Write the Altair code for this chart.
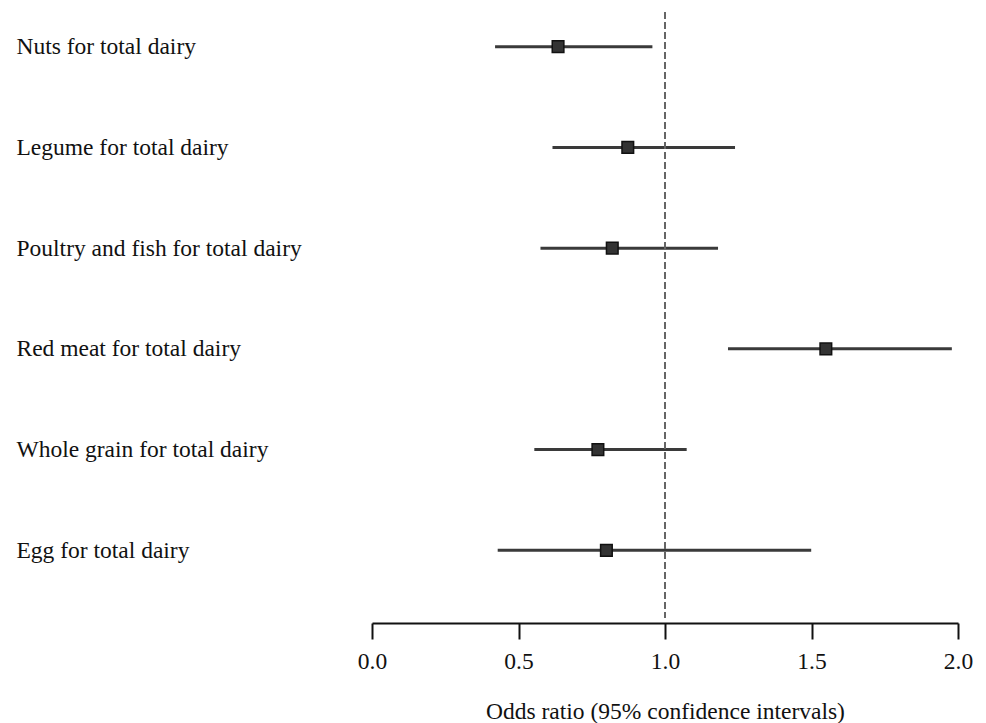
import altair as alt
import pandas as pd

labels = [
    "Nuts for total dairy",
    "Legume for total dairy",
    "Poultry and fish for total dairy",
    "Red meat for total dairy",
    "Whole grain for total dairy",
    "Egg for total dairy",
]
odds = [0.635, 0.873, 0.820, 1.549, 0.771, 0.800]
lower = [0.420, 0.616, 0.575, 1.215, 0.554, 0.429]
upper = [0.957, 1.239, 1.181, 1.979, 1.074, 1.499]
tick_values = [0.0, 0.5, 1.0, 1.5, 2.0]
ref_value = [1.0]

df = pd.DataFrame({"label": labels, "odds": odds, "lower": lower, "upper": upper})
ref_df = pd.DataFrame({"ref": ref_value})

FONT = "Liberation Serif"
FS = 23.5

x_axis = alt.Axis(
    values=tick_values,
    format=".1f",
    title="Odds ratio (95% confidence intervals)",
    offset=34,
    grid=False,
    labelFlush=False,
    domainColor="#111111",
    domainWidth=2,
    tickColor="#111111",
    tickWidth=2,
    tickSize=16,
    labelPadding=10,
    labelFont=FONT,
    labelFontSize=FS,
    labelColor="#111111",
    titleFont=FONT,
    titleFontSize=FS,
    titleFontWeight="normal",
    titleColor="#111111",
    titlePadding=27,
)
x_scale = alt.Scale(domain=[0, 2], nice=False, zero=False)

y_enc = alt.Y(
    "label:N",
    sort=labels,
    scale=alt.Scale(type="point", padding=0.384),
    axis=alt.Axis(
        title=None,
        domain=False,
        ticks=False,
        tickSize=0,
        grid=False,
        labelAlign="left",
        labelBaseline="middle",
        labelPadding=356,
        labelFont=FONT,
        labelFontSize=FS,
        labelColor="#111111",
        labelLimit=500,
    ),
)

bars = alt.Chart(df).mark_rule(color="#3a3a3a", strokeWidth=3).encode(
    x=alt.X("lower:Q", scale=x_scale, axis=x_axis),
    x2="upper:Q",
    y=y_enc,
)

ref = alt.Chart(ref_df).mark_rule(color="#666666", strokeWidth=2, strokeDash=[7, 3]).encode(
    x=alt.X("ref:Q", scale=x_scale, axis=x_axis),
    y=alt.value(4),
    y2=alt.value(610),
)

points = alt.Chart(df).mark_point(
    shape="square", filled=True, fill="#333333", stroke="#111111",
    strokeWidth=1.5, size=135, opacity=1,
).encode(
    x=alt.X("odds:Q", scale=x_scale, axis=x_axis),
    y=y_enc,
)

chart = alt.layer(bars, ref, points).properties(
    width=586,
    height=581,
    autosize=alt.AutoSizeParams(type="none"),
    padding={"left": 364, "top": 0, "right": 20, "bottom": 135},
).configure(background="white").configure_view(stroke=None, strokeWidth=0)

chart.save("out.html", embed_options={"renderer": "svg", "actions": False})
